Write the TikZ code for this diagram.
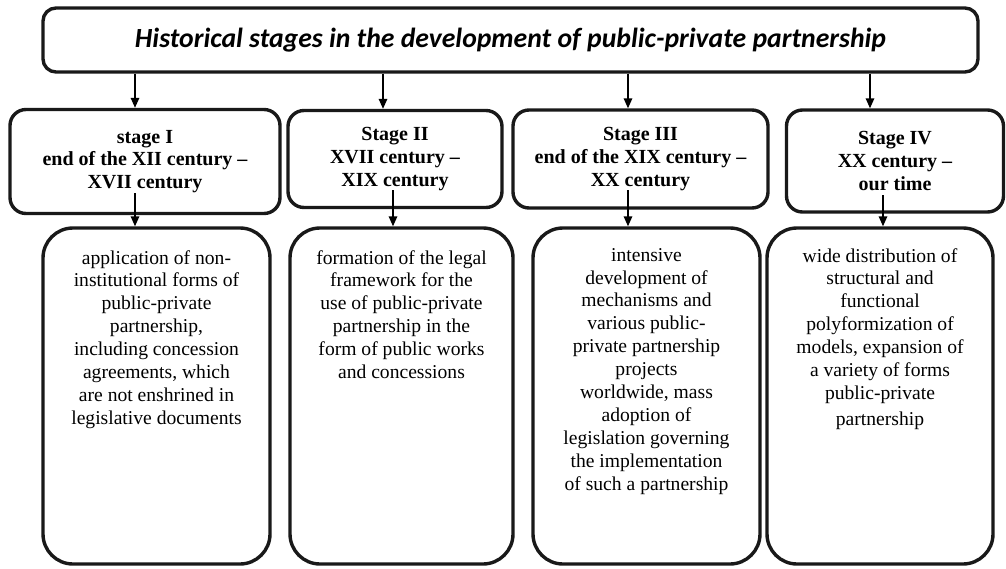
\documentclass[tikz,border=0pt]{standalone}
\usepackage{fontspec}
\setmainfont{Liberation Serif}
\newfontfamily\titlefont{Carlito}
\usetikzlibrary{arrows.meta}
\begin{document}
\begin{tikzpicture}[x=1pt,y=-1pt,
  box/.style={draw=black!90, line width=3.4pt, fill=white, inner sep=0pt},
  titlebox/.style={box, rounded corners=13pt},
  stagebox/.style={box, rounded corners=16pt, align=center,
    font=\fontsize{20}{22.7}\selectfont\bfseries},
  descbox/.style={box, rounded corners=30pt},
  desctext/.style={anchor=north, inner sep=0pt, align=center,
    font=\fontsize{19.6}{22.9}\selectfont},
  arr/.style={line width=1.5pt, -{Triangle[length=10pt,width=8.5pt]}}
]
\useasboundingbox (0,0) rectangle (1006,568);

% title
\node[titlebox, minimum width=935pt, minimum height=64pt] (title) at (510.5,40)
  {\titlefont\fontsize{27.7}{32}\selectfont\bfseries\itshape Historical stages in the development of public-private partnership};

% stage boxes
\node[stagebox, minimum width=270pt, minimum height=104pt] (s1) at (145,161.5)
  {stage I\\end of the XII century –\\XVII century};
\node[stagebox, minimum width=214pt, minimum height=97pt] (s2) at (395,159)
  {Stage II\\XVII century –\\XIX century};
\node[stagebox, minimum width=255pt, minimum height=98pt] (s3) at (640.5,159)
  {Stage III\\end of the XIX century –\\XX century};
\node[stagebox, minimum width=217pt, minimum height=102pt] (s4) at (895,161)
  {Stage IV\\XX century –\\our time};

% description boxes
\node[descbox, minimum width=227pt, minimum height=336pt] (d1) at (156.5,396) {};
\node[descbox, minimum width=223pt, minimum height=336pt] (d2) at (401.5,396) {};
\node[descbox, minimum width=227pt, minimum height=336pt] (d3) at (646.5,396) {};
\node[descbox, minimum width=226pt, minimum height=336pt] (d4) at (880,396) {};

\node[desctext] (t1) at (156.5,250) {application of non-\\institutional forms of\\public-private\\partnership,\\including concession\\agreements, which\\are not enshrined in\\legislative documents};
\node[desctext] (t2) at (401.5,250) {formation of the legal\\framework for the\\use of public-private\\partnership in the\\form of public works\\and concessions};
\node[desctext] (t3) at (646.5,248) {intensive\\development of\\mechanisms and\\various public-\\private partnership\\projects\\worldwide, mass\\adoption of\\legislation governing\\the implementation\\of such a partnership};
\node[desctext] (t4) at (880,248) {wide distribution of\\structural and\\functional\\polyformization of\\models, expansion of\\a variety of forms\\public-private\\[3pt]partnership};

% arrow columns
\coordinate (x1) at (135,0);
\coordinate (x2) at (383,0);
\coordinate (x3) at (628,0);
\coordinate (x4) at (870,0);
\draw[arr] (title.south -| x1) -- (s1.north -| x1);
\draw[arr] (title.south -| x2) -- (s2.north -| x2);
\draw[arr] (title.south -| x3) -- (s3.north -| x3);
\draw[arr] (title.south -| x4) -- (s4.north -| x4);

\coordinate (o1) at (135,193);
\coordinate (o2) at (393,190);
\coordinate (o3) at (628,190);
\coordinate (o4) at (883,195);
\draw[arr] (o1) -- (d1.north -| o1);
\draw[arr] (o2) -- (d2.north -| o2);
\draw[arr] (o3) -- (d3.north -| o3);
\draw[arr] (o4) -- (d4.north -| o4);
\end{tikzpicture}
\end{document}
